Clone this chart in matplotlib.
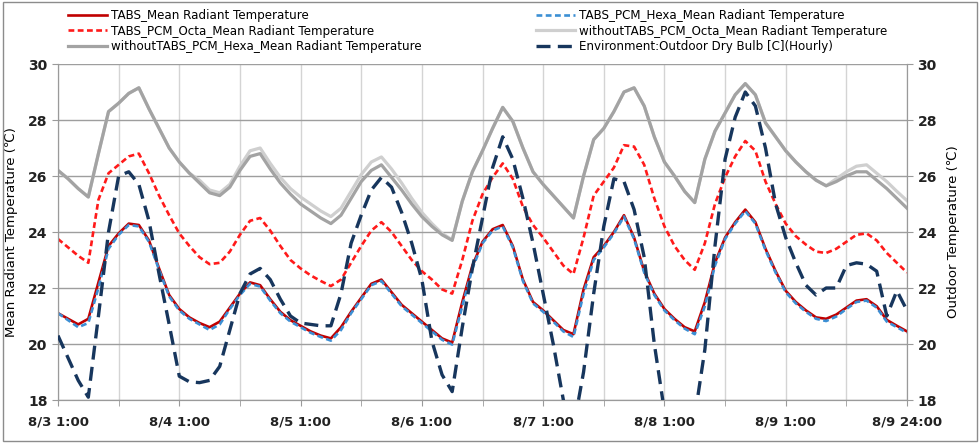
import matplotlib
matplotlib.use("Agg")
import matplotlib.pyplot as plt
from matplotlib.patches import Rectangle

# ---- data (2-hour steps from 8/3 1:00) ----
hours = list(range(0, 169, 2))

tabs_mean = [21.1, 20.9, 20.7, 20.9, 22.2, 23.5, 23.95, 24.3, 24.25, 23.7,
             22.7, 21.75, 21.25, 20.95, 20.75, 20.6, 20.8, 21.3, 21.8, 22.2,
             22.1, 21.6, 21.15, 20.85, 20.65, 20.45, 20.3, 20.2, 20.6, 21.15,
             21.65, 22.15, 22.3, 21.85, 21.4, 21.1, 20.8, 20.5, 20.2, 20.05,
             21.5, 22.8, 23.65, 24.1, 24.25, 23.5, 22.3, 21.5, 21.2, 20.85,
             20.5, 20.35, 21.95, 23.1, 23.5, 24.0, 24.6, 23.8, 22.6, 21.8,
             21.25, 20.9, 20.6, 20.45, 21.5, 22.9, 23.8, 24.35, 24.8, 24.35,
             23.4, 22.6, 21.9, 21.5, 21.2, 20.95, 20.9, 21.05, 21.3, 21.55,
             21.6, 21.35, 20.86, 20.65, 20.45]

tabs_pcm_hexa = [21.1, 20.85, 20.6, 20.75, 22.0, 23.4, 23.9, 24.25, 24.2, 23.65,
                 22.65, 21.7, 21.2, 20.9, 20.7, 20.5, 20.7, 21.25, 21.75, 22.15,
                 22.05, 21.55, 21.1, 20.8, 20.6, 20.4, 20.25, 20.12, 20.5, 21.1,
                 21.6, 22.1, 22.25, 21.8, 21.35, 21.05, 20.75, 20.45, 20.15, 19.98,
                 21.35, 22.7, 23.6, 24.05, 24.2, 23.45, 22.25, 21.45, 21.15, 20.8,
                 20.45, 20.25, 21.8, 23.0, 23.45, 23.95, 24.55, 23.75, 22.55, 21.75,
                 21.2, 20.85, 20.55, 20.35, 21.35, 22.8, 23.75, 24.3, 24.75, 24.3,
                 23.35, 22.55, 21.85, 21.45, 21.15, 20.9, 20.82, 20.98, 21.25, 21.5,
                 21.55, 21.3, 20.8, 20.6, 20.4]

tabs_pcm_octa = [23.75, 23.45, 23.15, 22.9, 25.15, 26.1, 26.4, 26.7, 26.8, 26.1,
                 25.3, 24.6, 23.95, 23.5, 23.1, 22.85, 22.9, 23.3, 23.9, 24.4,
                 24.5, 24.05, 23.5, 23.0, 22.7, 22.45, 22.25, 22.07, 22.3, 22.9,
                 23.5, 24.05, 24.35, 24.0, 23.5, 23.0, 22.6, 22.3, 21.95, 21.8,
                 23.0, 24.4, 25.35, 25.95, 26.45, 25.9, 24.9, 24.25, 23.8, 23.3,
                 22.8, 22.5, 23.8, 25.3, 25.8, 26.3, 27.1, 27.05, 26.4, 25.2,
                 24.2, 23.5, 23.0, 22.65, 23.6, 25.0, 25.95, 26.7, 27.25, 26.9,
                 25.8, 25.0, 24.3, 23.85, 23.55, 23.3, 23.25, 23.4, 23.65, 23.9,
                 23.95, 23.7, 23.25, 22.9, 22.55]

wo_pcm_octa = [26.2, 25.9, 25.55, 25.25, 26.8, 28.3, 28.6, 28.95, 29.15, 28.4,
               27.7, 27.0, 26.5, 26.1, 25.85, 25.5, 25.4, 25.7, 26.35, 26.9,
               27.0, 26.45, 25.95, 25.55, 25.25, 25.0, 24.75, 24.55, 24.85, 25.45,
               26.05, 26.5, 26.68, 26.25, 25.75, 25.2, 24.7, 24.3, 23.95, 23.72,
               25.1, 26.15, 26.9, 27.7, 28.45, 27.95, 27.0, 26.15, 25.7, 25.3,
               24.9, 24.5, 26.0, 27.3, 27.7, 28.3, 29.0, 29.15, 28.5, 27.4,
               26.5, 26.0, 25.45, 25.05, 26.6, 27.6, 28.25, 28.9, 29.3, 28.9,
               27.9, 27.4, 26.9, 26.5, 26.15, 25.85, 25.65, 25.9, 26.15, 26.35,
               26.4, 26.1, 25.8, 25.45, 25.12]

wo_pcm_hexa = [26.2, 25.9, 25.55, 25.25, 26.8, 28.3, 28.6, 28.95, 29.15, 28.4,
               27.7, 27.0, 26.5, 26.1, 25.75, 25.4, 25.3, 25.6, 26.2, 26.7,
               26.8, 26.25, 25.75, 25.35, 25.0, 24.75, 24.5, 24.3, 24.6, 25.2,
               25.8, 26.2, 26.4, 25.95, 25.5, 25.0, 24.55, 24.2, 23.9, 23.7,
               25.1, 26.15, 26.9, 27.7, 28.45, 27.95, 27.0, 26.15, 25.7, 25.3,
               24.9, 24.5, 26.0, 27.3, 27.7, 28.3, 29.0, 29.15, 28.5, 27.4,
               26.5, 26.0, 25.45, 25.05, 26.6, 27.6, 28.25, 28.9, 29.3, 28.9,
               27.9, 27.4, 26.9, 26.5, 26.15, 25.85, 25.65, 25.8, 26.0, 26.15,
               26.15, 25.85, 25.55, 25.2, 24.85]

outdoor = [20.3, 19.5, 18.7, 18.1, 21.0, 24.0, 26.0, 26.15, 25.7, 24.4,
           22.5, 20.7, 18.85, 18.65, 18.62, 18.7, 19.2, 20.5, 21.8, 22.5,
           22.7, 22.3, 21.6, 21.0, 20.75, 20.7, 20.65, 20.65, 21.8, 23.6,
           24.6, 25.5, 25.95, 25.6, 24.7, 23.6, 22.3, 20.1, 18.9, 18.3,
           20.6, 22.7, 24.5, 26.3, 27.4, 26.6, 25.2, 23.6, 21.8, 20.0,
           18.0, 17.0, 19.0, 21.8, 24.2, 25.9, 25.8, 24.8, 23.1, 20.0,
           17.6, 16.6, 16.6, 17.4, 19.8, 23.5, 26.6, 28.1, 29.0, 28.5,
           27.0, 25.0, 23.8, 22.9, 22.1, 21.75, 22.0, 22.0, 22.8, 22.9,
           22.85, 22.6, 21.0, 21.9, 21.2]

tick_pos = [0, 24, 48, 72, 96, 120, 144, 168]
tick_labels = ["8/3 1:00", "8/4 1:00", "8/5 1:00", "8/6 1:00", "8/7 1:00",
               "8/8 1:00", "8/9 1:00", "8/9 24:00"]
y_ticks = [18, 20, 22, 24, 26, 28, 30]

labels = ["TABS_Mean Radiant Temperature",
          "TABS_PCM_Hexa_Mean Radiant Temperature",
          "TABS_PCM_Octa_Mean Radiant Temperature",
          "withoutTABS_PCM_Octa_Mean Radiant Temperature",
          "withoutTABS_PCM_Hexa_Mean Radiant Temperature",
          "Environment:Outdoor Dry Bulb [C](Hourly)"]

plt.rcParams['font.family'] = ['DejaVu Sans']

fig = plt.figure(figsize=(9.8, 4.43), dpi=100)
fig.patches.append(Rectangle((0.003, 0.005), 0.994, 0.99, transform=fig.transFigure,
                             fill=False, edgecolor='#8c8c8c', linewidth=1.0))

ax = fig.add_axes([58/980, 1-400/443, (907-58)/980, (400-64)/443])
ax2 = ax.twinx()

c_red = '#C00000'
c_blue = '#3C8FD4'
c_bred = '#FF1A1A'
c_lgray = '#CFCFCF'
c_gray = '#A3A3A3'
c_navy = '#17365D'

l_wo_o, = ax.plot(hours, wo_pcm_octa, color=c_lgray, lw=2.3, zorder=2)
l_wo_h, = ax.plot(hours, wo_pcm_hexa, color=c_gray, lw=2.3, zorder=2)
l_oct, = ax.plot(hours, tabs_pcm_octa, color=c_bred, lw=1.9, dashes=(2.2, 1.3), zorder=3)
l_tm, = ax.plot(hours, tabs_mean, color=c_red, lw=1.9, zorder=3)
l_hx, = ax.plot(hours, tabs_pcm_hexa, color=c_blue, lw=1.9, dashes=(2.2, 1.3), zorder=4)
l_out, = ax2.plot(hours, outdoor, color=c_navy, lw=2.4, dashes=(4.2, 2.2), zorder=5)

for a in (ax, ax2):
    a.set_ylim(18, 30)
    a.set_yticks(y_ticks)
    a.set_xlim(0, 168)
    for s in a.spines.values():
        s.set_color('#9a9a9a')
    a.spines['top'].set_visible(False)

ax.set_xticks(tick_pos)
ax.set_xticklabels(tick_labels, fontsize=9.5, fontweight='bold', color='#222222')
ax.set_xticks(list(range(0, 169, 12)), minor=True)
ax.grid(True, axis='x', which='both', color='#D4D4D4', lw=1.0)
ax.grid(True, axis='y', which='major', color='#9E9E9E', lw=1.0)
ax.set_axisbelow(True)
ax.tick_params(axis='x', which='both', length=4, color='#9a9a9a', pad=7)
ax.tick_params(axis='y', length=4, color='#9a9a9a', labelsize=10)
ax2.tick_params(axis='y', length=4, color='#9a9a9a', labelsize=10)
for lab in ax.get_yticklabels() + ax2.get_yticklabels():
    lab.set_fontweight('bold')
    lab.set_color('#222222')
ax.set_ylabel("Mean Radiant Temperature (\u2103)", fontsize=9.5, labelpad=7)
ax2.set_ylabel("Outdoor Temperature (\u2103)", fontsize=9.5, labelpad=7)

left_handles = [l_tm, l_oct, l_wo_h]
left_labels = [labels[0], labels[2], labels[4]]
right_handles = [l_hx, l_wo_o, l_out]
right_labels = [labels[1], labels[3], labels[5]]

kw = dict(frameon=False, fontsize=8.6, handlelength=3.3, handletextpad=0.3,
          labelspacing=0.22, borderaxespad=0, borderpad=0)
fig.legend(left_handles, left_labels, loc='upper left',
           bbox_to_anchor=(68/980, 1-9/443), **kw)
fig.legend(right_handles, right_labels, loc='upper left',
           bbox_to_anchor=(536/980, 1-9/443), **kw)

fig.savefig("out.png", dpi=100)
